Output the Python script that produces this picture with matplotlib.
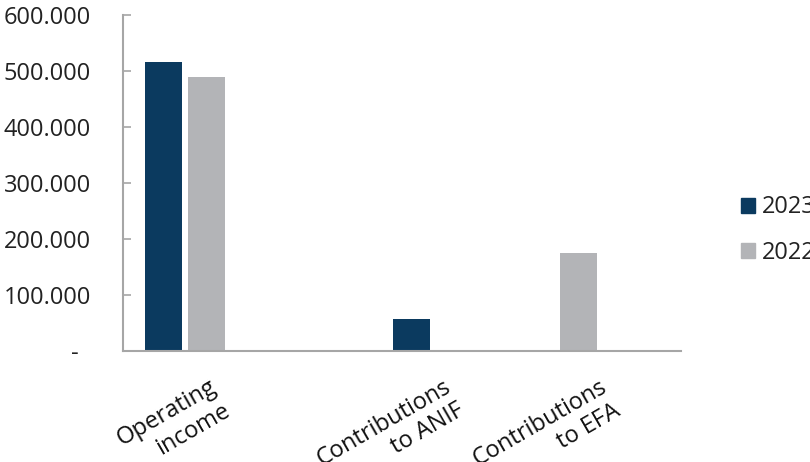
import numpy as np
import matplotlib
matplotlib.use("Agg")
import matplotlib.pyplot as plt
from matplotlib.patches import Patch
from matplotlib.transforms import ScaledTranslation

plt.rcParams['font.family'] = ['Open Sans', 'DejaVu Sans']

# data (blank slot keeps the gap after the first group)
categories = ["Operating\nincome", "", "Contributions\nto ANIF", "Contributions\nto EFA"]
v2023 = [516000, 0, 57000, 0]
v2022 = [490000, 0, 0, 175000]
series = ["2023", "2022"]
colors = ["#0b3a5f", "#b3b4b7"]
yticks = [0, 100000, 200000, 300000, 400000, 500000, 600000]
ylabels = ["-  ", "100.000", "200.000", "300.000", "400.000", "500.000", "600.000"]

fig = plt.figure(figsize=(8.1, 4.62), dpi=100)
ax = fig.add_axes([123/810, 1-351/462, (681-123)/810, (351-15)/462])

x = np.arange(len(categories))
w, gap = 0.30, 0.05
ax.bar(x - (w+gap)/2, v2023, w, color=colors[0])
ax.bar(x + (w+gap)/2, v2022, w, color=colors[1])

ax.set_xlim(-0.5, 4.0)
ax.set_ylim(0, 600000)
ax.set_yticks(yticks)
ax.set_yticklabels(ylabels)

for s in ["top", "right"]:
    ax.spines[s].set_visible(False)
for s in ["left", "bottom"]:
    ax.spines[s].set_color("#a6a6a6")
    ax.spines[s].set_linewidth(1.5)

ax.tick_params(axis="y", direction="in", length=6, width=1.2, color="#a6a6a6",
               pad=23, labelsize=17, labelcolor="#222222")
ax.tick_params(axis="x", length=0, pad=17, labelsize=17, labelcolor="#111111")

ax.set_xticks(x)
ax.set_xticklabels(categories, rotation=30, ha="right", va="top",
                   rotation_mode="anchor", multialignment="right")
# excel-ish label placement, nudged per label (px)
nudge = [24, 0, 10, 42]
for lab, dx in zip(ax.get_xticklabels(), nudge):
    lab.set_transform(lab.get_transform() + ScaledTranslation(dx/100, 0, fig.dpi_scale_trans))

handles = [Patch(color=c, label=s) for c, s in zip(colors, series)]
fig.legend(handles=handles, loc="center left", bbox_to_anchor=(741/810, 1-230/462),
           frameon=False, fontsize=17, handlelength=0.6, handleheight=0.6,
           handletextpad=0.3, labelspacing=0.9, borderpad=0, borderaxespad=0,
           labelcolor="#222222")

fig.savefig("out.png", dpi=100)
